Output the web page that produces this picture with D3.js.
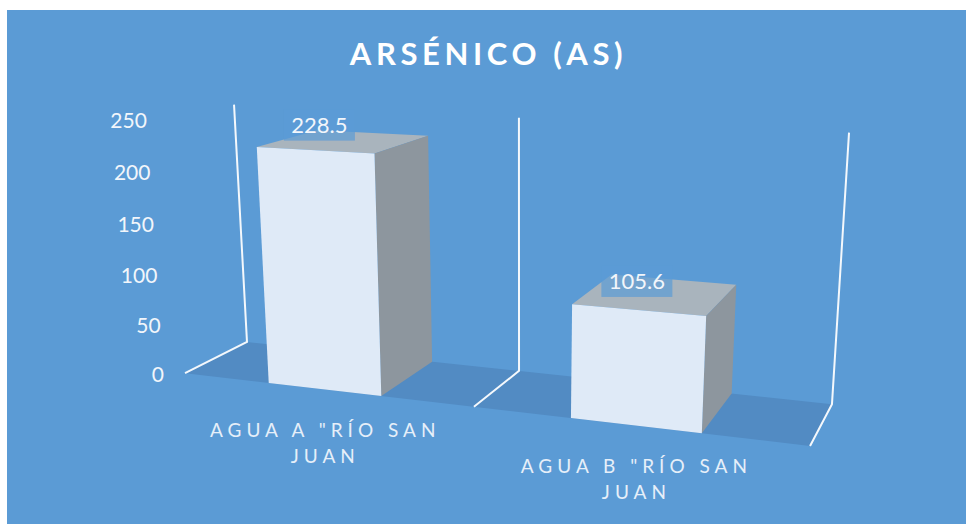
<!DOCTYPE html><html><head><meta charset="utf-8"><style>html,body{margin:0;background:#fff}svg{display:block}text{font-family:Lato,"Open Sans",sans-serif}</style></head><body>
<svg id="c" width="966" height="524"></svg>
<script src="https://cdn.jsdelivr.net/npm/d3@7"></script>
<script>
// Data
const titleText = "ARSÉNICO (AS)";
const categories = ["AGUA A", "AGUA B"];
const categoryLines = [['AGUA A "RÍO SAN', "JUAN"], ['AGUA B "RÍO SAN', "JUAN"]];
const values = [228.5, 105.6];
const valueLabels = ["228.5", "105.6"];
const yTicks = [0, 50, 100, 150, 200, 250];

// 3D camera of the chart's box: X = category axis, Y = value share, Z = depth
const cam = [255.66399, -25.27909, 80.19754, 185.01383,
             5.04916, -259.85083, -6.0695, 373.22758,
             -0.07018, -0.04853, 0.07374, 1];
const project = (X, Y, Z) => {
  const w = cam[8]*X + cam[9]*Y + cam[10]*Z + cam[11];
  return [(cam[0]*X + cam[1]*Y + cam[2]*Z + cam[3]) / w,
          (cam[4]*X + cam[5]*Y + cam[6]*Z + cam[7]) / w];
};

const x = d3.scaleBand().domain(categories).range([0, 2]).paddingInner(0.61).paddingOuter(0.305);
const y = d3.scaleLinear().domain([0, 250]).range([0, 1]);
const line = d3.line();
const poly = pts => line(pts.map(p => project(...p))) + "Z";

const svg = d3.select("#c");
svg.append("rect").attr("x", 7).attr("y", 10).attr("width", 959).attr("height", 514).attr("fill", "#5b9bd5");

// Title
svg.append("text").text(titleText).attr("x", 488.5).attr("y", 65).attr("text-anchor", "middle")
  .attr("font-size", 31).attr("font-weight", 700).attr("letter-spacing", 4.6).attr("fill", "#fff");

// Floor
svg.append("path").attr("d", poly([[0,0,0],[2,0,0],[2,0,1],[0,0,1]])).attr("fill", "#528bc3");

// Frame lines on each category boundary
const maxValue = y.domain()[1];
d3.range(0, categories.length + 1).forEach(X => {
  svg.append("path")
    .attr("d", line([project(X, y(0), 0), project(X, y(0), 1), project(X, y(maxValue), 1)]))
    .attr("fill", "none").attr("stroke", "#f4f8fc").attr("stroke-width", 2);
});

// Bars
const bars = svg.selectAll("g.bar").data(categories).join("g").attr("class", "bar");
bars.each(function (c, i) {
  const g = d3.select(this), a = x(c), b = a + x.bandwidth(), h = y(values[i]);
  g.append("path").attr("d", poly([[a,h,0],[b,h,0],[b,h,1],[a,h,1]])).attr("fill", "#a9b4bd");
  g.append("path").attr("d", poly([[b,0,0],[b,0,1],[b,h,1],[b,h,0]])).attr("fill", "#8d969e");
  g.append("path").attr("d", poly([[a,0,0],[b,0,0],[b,h,0],[a,h,0]])).attr("fill", "#dfeaf7");
});

// Value labels with their translucent boxes
categories.forEach((c, i) => {
  const [px, py] = project(x(c) + x.bandwidth() / 2, y(values[i]), 0.25);
  const lx = px - 10.5, ly = py - 20.5;
  svg.append("rect").attr("x", lx - 35.5).attr("y", ly - 15.5).attr("width", 71).attr("height", 31)
    .attr("fill", "#5b9bd5").attr("fill-opacity", 0.7);
  svg.append("text").text(valueLabels[i]).attr("x", lx).attr("y", ly).attr("dy", "0.35em")
    .attr("text-anchor", "middle").attr("font-size", 22).attr("fill", "#f2f6fb");
});

// Value axis labels
yTicks.forEach(t => {
  const [px, py] = project(0, y(t), 0);
  svg.append("text").text(t).attr("x", px - 21).attr("y", py + 1).attr("dy", "0.35em")
    .attr("text-anchor", "end").attr("font-size", 21).attr("fill", "#f2f6fb");
});

// Category labels
categories.forEach((c, i) => {
  const [px, py] = project(x(c) + x.bandwidth() / 2, 0, 0);
  const t = svg.append("text").attr("text-anchor", "middle").attr("font-size", 19)
    .attr("letter-spacing", 5).attr("fill", "#e6eff9");
  categoryLines[i].forEach((s, k) => {
    t.append("tspan").text(s).attr("x", px + 1).attr("y", py + 47.5 + k * 26);
  });
});
</script></body></html>
